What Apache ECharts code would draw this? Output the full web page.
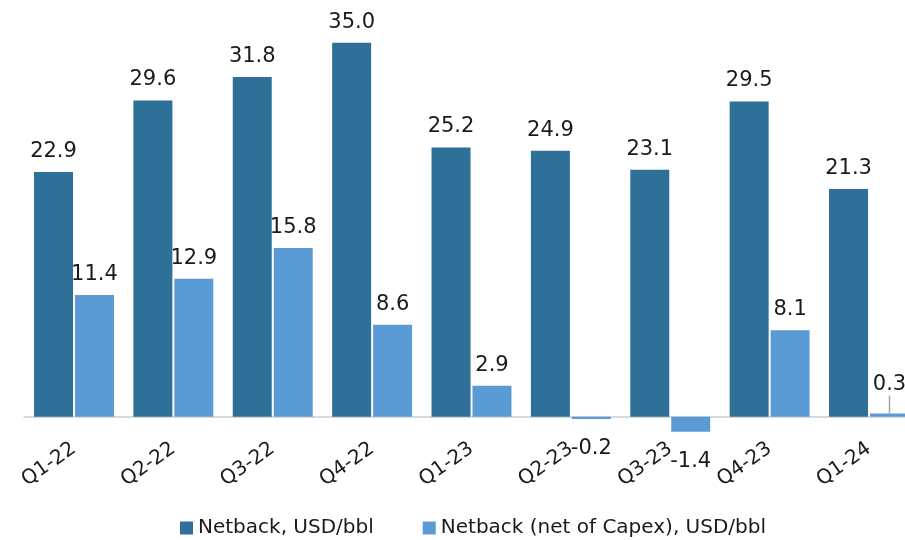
<!DOCTYPE html>
<html>
<head>
<meta charset="utf-8">
<style>
  html, body { margin: 0; padding: 0; background: #fff; overflow: hidden; }
  /* a bit wider than the window so the last bar gets cut at the edge, like the original */
  #main { width: 925px; height: 540px; }
</style>
<script src="https://cdn.jsdelivr.net/npm/echarts@6/dist/echarts.min.js"></script>
</head>
<body>
<div id="main"></div>
<script>
var categories = ['Q1-22', 'Q2-22', 'Q3-22', 'Q4-22', 'Q1-23', 'Q2-23', 'Q3-23', 'Q4-23', 'Q1-24'];
var netback = [22.9, 29.6, 31.8, 35.0, 25.2, 24.9, 23.1, 29.5, 21.3];
var netbackNetCapex = [11.4, 12.9, 15.8, 8.6, 2.9, -0.2, -1.4, 8.1, 0.3];
var seriesNames = ['Netback, USD/bbl', 'Netback (net of Capex), USD/bbl'];

var font = 'DejaVu Sans';

// negative bars get their label underneath, the tiny last one gets a callout line
function withLabels(arr) {
  return arr.map(function (v, i) {
    if (v < 0) return { value: v, label: { position: 'bottom', distance: 19 } };
    if (i === arr.length - 1) return { value: v, labelLine: { show: true } };
    return v;
  });
}

var chart = echarts.init(document.getElementById('main'));
chart.setOption({
  animation: false,
  textStyle: { fontFamily: font },
  grid: { left: 24.3, width: 894.4, top: 32, bottom: 91.2, containLabel: false },
  legend: {
    data: seriesNames,
    left: 175,
    top: 513,
    itemWidth: 13,
    itemHeight: 13,
    itemGap: 49,
    icon: 'rect',
    textStyle: { fontSize: 20, color: '#1a1a1a', fontFamily: font }
  },
  xAxis: {
    type: 'category',
    data: categories,
    axisLine: { show: true, onZero: true, lineStyle: { color: '#d9d9d9', width: 2 } },
    axisTick: { show: false },
    axisLabel: {
      rotate: 35,
      interval: 0,
      margin: -2,
      fontSize: 20,
      color: '#1a1a1a',
      fontFamily: font
    }
  },
  yAxis: {
    type: 'value',
    min: -3,
    max: 36,
    show: false,
    splitLine: { show: false }
  },
  series: [{
    name: seriesNames[0],
    type: 'bar',
    data: netback,
    barWidth: 39,
    barGap: '5%',
    itemStyle: { color: '#2e7097' },
    label: {
      show: true,
      position: 'top',
      distance: 10,
      fontSize: 21,
      color: '#1a1a1a',
      fontFamily: font,
      formatter: function (p) { return p.value.toFixed(1); }
    }
  }, {
    name: seriesNames[1],
    type: 'bar',
    data: withLabels(netbackNetCapex),
    barWidth: 39,
    itemStyle: { color: '#5b9bd5' },
    label: {
      show: true,
      position: 'top',
      distance: 10,
      fontSize: 21,
      color: '#1a1a1a',
      fontFamily: font,
      formatter: function (p) { return p.value.toFixed(1); }
    },
    labelLine: { show: false, lineStyle: { color: '#a6a6a6', width: 1.5 } },
    labelLayout: function (p) {
      if (p.dataIndex === 8) return { dy: -8 };
      return {};
    }
  }]
});
</script>
</body>
</html>
